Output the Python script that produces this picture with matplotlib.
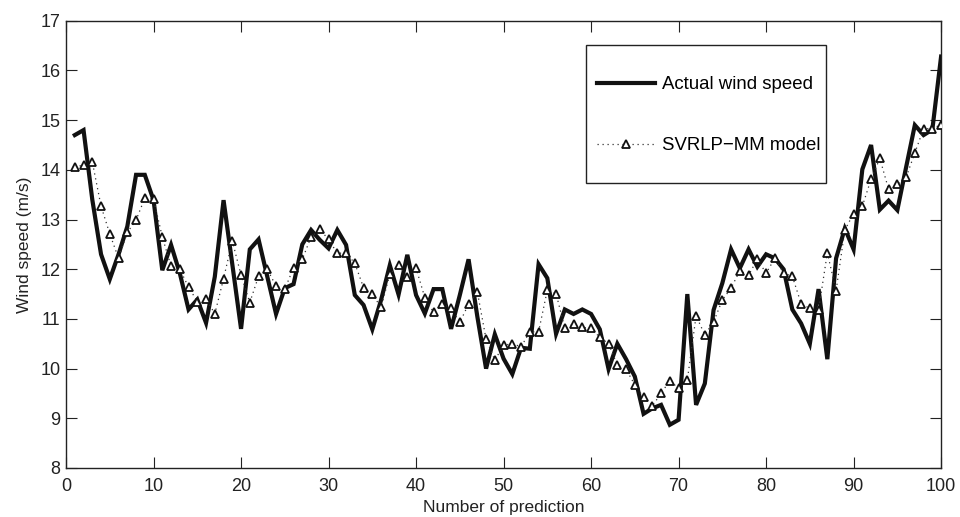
import matplotlib
matplotlib.use("Agg")
import matplotlib.pyplot as plt
from matplotlib.patches import Rectangle

plt.rcParams['font.family'] = ['Liberation Sans', 'DejaVu Sans']

# Prediction index and wind speed series (m/s)
index = list(range(1, 101))
actual = [14.7, 14.8, 13.4, 12.3, 11.8, 12.3, 12.86, 13.9, 13.9, 13.39,
          11.98, 12.49, 11.92, 11.19, 11.39, 10.92, 11.85, 13.39, 12.1, 10.8,
          12.4, 12.6, 11.85, 11.1, 11.62, 11.7, 12.5, 12.79, 12.59, 12.42,
          12.79, 12.49, 11.48, 11.28, 10.79, 11.38, 12.08, 11.49, 12.29, 11.48,
          11.11, 11.6, 11.6, 10.8, 11.48, 12.2, 11.05, 10.0, 10.69, 10.2,
          9.89, 10.42, 10.4, 12.1, 11.82, 10.7, 11.19, 11.1, 11.19, 11.1,
          10.79, 9.99, 10.5, 10.19, 9.84, 9.09, 9.2, 9.27, 8.87, 8.97,
          11.5, 9.27, 9.7, 11.18, 11.72, 12.4, 12.02, 12.4, 12.05, 12.3,
          12.22, 12.0, 11.19, 10.91, 10.5, 11.6, 10.19, 12.22, 12.82, 12.4,
          14.01, 14.5, 13.2, 13.38, 13.19, 14.05, 14.9, 14.7, 14.81, 16.28]
predicted = [14.05, 14.1, 14.16, 13.27, 12.71, 12.22, 12.74, 12.99, 13.43, 13.41,
             12.65, 12.06, 12.0, 11.64, 11.35, 11.41, 11.1, 11.81, 12.57, 11.88,
             11.33, 11.86, 12.0, 11.66, 11.6, 12.03, 12.2, 12.65, 12.8, 12.6,
             12.32, 12.33, 12.12, 11.63, 11.5, 11.23, 11.9, 12.08, 11.85, 12.02,
             11.43, 11.13, 11.3, 11.21, 10.93, 11.3, 11.55, 10.59, 10.17, 10.47,
             10.5, 10.44, 10.74, 10.74, 11.58, 11.51, 10.81, 10.9, 10.83, 10.81,
             10.63, 10.5, 10.07, 9.99, 9.67, 9.42, 9.25, 9.5, 9.76, 9.6,
             9.77, 11.06, 10.68, 10.94, 11.38, 11.62, 11.97, 11.88, 12.2, 11.92,
             12.22, 11.92, 11.86, 11.31, 11.21, 11.18, 12.33, 11.57, 12.79, 13.12,
             13.27, 13.81, 14.23, 13.61, 13.71, 13.85, 14.34, 14.83, 14.83, 14.91]

xticks = list(range(0, 101, 10))
yticks = list(range(8, 18))

fig = plt.figure(figsize=(9.6, 5.17), dpi=100)
ax = fig.add_axes([0.0688, 0.0948, 0.9115, 0.865])

ax.plot(index, actual, color='#111111', lw=3.0, solid_joinstyle='miter',
        label='Actual wind speed', zorder=3)
ax.plot(index, predicted, color='#333333', lw=0.9, ls=(0, (1, 3)),
        marker='^', markersize=6, markerfacecolor='white',
        markeredgecolor='#111111', markeredgewidth=1.3,
        label='SVRLP\u2212MM model', zorder=4)

ax.set_xlim(0, 100)
ax.set_ylim(8, 17)
ax.set_xticks(xticks)
ax.set_yticks(yticks)
ax.tick_params(direction='in', length=8, width=0.8, top=True, right=True,
               labelsize=13, colors='#222222')
ax.tick_params(axis='x', pad=7.5)
ax.tick_params(axis='y', pad=4)
for s in ax.spines.values():
    s.set_linewidth(1.0)
    s.set_color('#222222')

ax.set_xlabel('Number of prediction', fontsize=12.5, labelpad=3, color='#222222')
ax.set_ylabel('Wind speed (m/s)', fontsize=12.5, labelpad=6, color='#222222')

# Legend entries without their own frame; a taller box is drawn around them
leg = ax.legend(loc='center left', bbox_to_anchor=(0.6069, 0.789), fontsize=13.4,
                frameon=False, borderpad=0, labelspacing=2.37,
                handlelength=3.1, handletextpad=0.38, borderaxespad=0)
leg.set_zorder(6)
ax.add_patch(Rectangle((0.594, 0.637), 0.2743, 0.3085, transform=ax.transAxes,
                       facecolor='white', edgecolor='#222222', lw=1.0, zorder=5))

fig.savefig('out.png', dpi=100)
